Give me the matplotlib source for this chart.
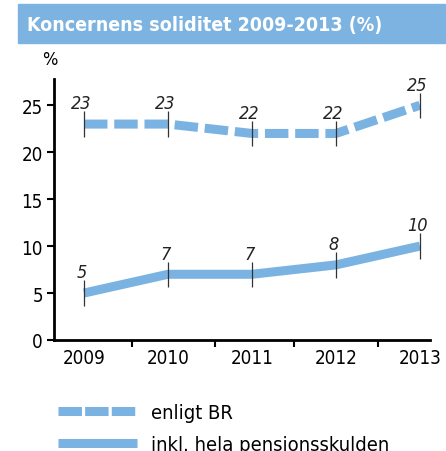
import numpy as np
import matplotlib
matplotlib.use("Agg")
import matplotlib.pyplot as plt
from matplotlib.patches import Rectangle
from matplotlib.lines import Line2D

plt.rcParams['font.family'] = ['DejaVu Sans']
plt.rcParams['font.stretch'] = 'condensed'

years = ["2009", "2010", "2011", "2012", "2013"]
enligt_br = [23, 23, 22, 22, 25]
inkl_pension = [5, 7, 7, 8, 10]
yticks = [0, 5, 10, 15, 20, 25]

title = "Koncernens soliditet 2009-2013 (%)"
labels = ["enligt BR", "inkl. hela pensionsskulden"]
blue = "#7ab3e2"

W, H = 446, 452
fig = plt.figure(figsize=(W / 100, H / 100), dpi=100)

# title bar
fig.patches.append(Rectangle((18 / W, 1 - 44 / H), 1 - 18 / W, 39 / H,
                             transform=fig.transFigure, color="#7db3e0", zorder=0))
fig.text(27 / W, 1 - 25 / H, title, color="white", fontsize=14, fontweight="bold",
         va="center", ha="left")

ax = fig.add_axes([54 / W, 1 - 341 / H, (430 - 54) / W, (341 - 80) / H])
x = np.arange(len(years))

ax.plot(x, enligt_br, color=blue, lw=6.5, dashes=(2.6, 0.75), solid_capstyle="butt",
        dash_capstyle="butt")
ax.plot(x, inkl_pension, color=blue, lw=6.5, solid_capstyle="butt")

for series in (enligt_br, inkl_pension):
    s = np.array(series)
    ax.vlines(x, s - 1.35, s + 1.35, color="#333333", lw=0.9, zorder=3)
    for xi, v in zip(x, series):
        ax.text(xi - 0.03, v + 2.2, str(v), ha="center", va="center", fontsize=13,
                style="italic", color="#222222")

ax.set_xlim(-0.357, 4.12)
ax.set_ylim(0, 27.8)
ax.set_yticks(yticks)
ax.set_xticks(x)
ax.set_xticklabels(years)
ax.set_xticks([0.57, 1.56, 2.5, 3.5], minor=True)
ax.tick_params(axis="x", which="major", length=0, pad=6, labelsize=13.5)
ax.tick_params(axis="x", which="minor", length=5, width=1.5, direction="out")
ax.tick_params(axis="y", length=5, width=1.5, direction="out", labelsize=13.5, pad=3)
for sp in ("top", "right"):
    ax.spines[sp].set_visible(False)
for sp in ("left", "bottom"):
    ax.spines[sp].set_linewidth(2)

fig.text(50 / W, 1 - 60 / H, "%", fontsize=13, ha="center", va="center")

# legend
handles = [
    Line2D([0], [0], color=blue, lw=6.5, dashes=(2.6, 0.35), solid_capstyle="butt"),
    Line2D([0], [0], color=blue, lw=6.5, solid_capstyle="butt"),
]
fig.legend(handles, labels, loc="upper left", bbox_to_anchor=(50 / W, 1 - 396 / H),
           frameon=False, fontsize=14.5, handlelength=3.9, handletextpad=0.7,
           labelspacing=0.65, borderaxespad=0)

fig.savefig("out.png", dpi=100)
